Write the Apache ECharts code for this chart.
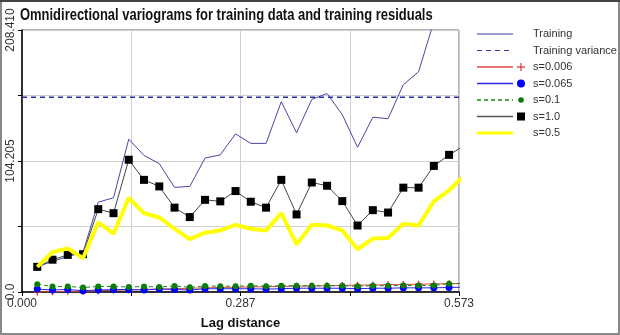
<!DOCTYPE html>
<html>
<head>
<meta charset="utf-8">
<script src="https://cdn.jsdelivr.net/npm/echarts@6/dist/echarts.min.js"></script>
<style>
  html, body { margin: 0; padding: 0; background: #fff; }
  #chart { width: 620px; height: 335px; }
</style>
</head>
<body>
<div id="chart"></div>
<script>
// lag distances (last one lies past the axis end and is clipped)
const lags = [0.02, 0.04, 0.06, 0.08, 0.10, 0.12, 0.14, 0.16, 0.18, 0.20,
  0.22, 0.24, 0.26, 0.28, 0.30, 0.32, 0.34, 0.36, 0.38, 0.40,
  0.42, 0.44, 0.46, 0.48, 0.50, 0.52, 0.54, 0.56, 0.58];

const training = [20.0, 24.4, 28.2, 31.6, 71.5, 74.9, 121.6, 108.6, 102.1, 83.2,
  84.0, 106.5, 109.1, 125.8, 118.2, 118.2, 151.4, 126.7, 153.2, 157.9,
  141.0, 115.1, 139.0, 137.9, 164.9, 175.2, 215.0, 240.0, 262.0];
const trainingVariance = 155.0;
const s0006 = [0.0, 0.2, 0.5, 0.6, 1.0, 1.3, 1.6, 2.0, 2.4, 2.6,
  3.0, 3.3, 3.6, 3.8, 4.0, 4.2, 4.4, 4.6, 4.8, 5.0,
  5.2, 5.4, 5.6, 5.8, 6.0, 6.2, 6.4, 6.6, 6.8];
const s0065 = [2.3, 1.6, 2.0, 1.0, 1.6, 2.0, 2.0, 1.6, 2.3, 2.0,
  1.6, 2.6, 2.6, 2.6, 2.6, 2.3, 2.6, 3.0, 3.0, 3.0,
  3.0, 2.6, 3.0, 3.0, 3.3, 3.3, 3.3, 3.6, 3.8];
const s01 = [6.2, 4.4, 4.4, 3.6, 4.4, 4.4, 4.0, 4.4, 4.0, 4.8,
  3.8, 4.8, 4.6, 4.6, 5.0, 4.6, 5.0, 5.0, 5.0, 5.0,
  5.0, 4.6, 5.0, 5.0, 5.2, 5.2, 5.2, 6.6, 6.8];
const s10 = [20.0, 25.7, 29.5, 30.1, 65.9, 62.7, 105.2, 89.2, 84.0, 67.1,
  59.6, 73.3, 72.1, 80.3, 71.8, 67.1, 89.2, 61.7, 87.1, 84.5,
  72.3, 52.9, 65.1, 63.2, 83.0, 83.0, 100.3, 109.1, 116.5];
const s05 = [20.0, 31.6, 34.7, 26.9, 55.5, 46.4, 74.9, 62.7, 59.3, 50.3,
  42.0, 47.2, 49.0, 53.4, 50.3, 49.0, 62.7, 37.9, 53.4, 52.9,
  49.0, 34.0, 42.5, 43.0, 54.4, 52.9, 72.1, 80.9, 92.8];

const xMax = 0.573;
const yMax = 208.41;
const xTickLabels = ['0.000', '', '0.287', '', '0.573'];
const yTickLabels = ['0.0', '', '104.205', '', '208.410'];
const titleText = 'Omnidirectional variograms for training data and training residuals';

const plus = 'path://M4,0 L6,0 L6,4 L10,4 L10,6 L6,6 L6,10 L4,10 L4,6 L0,6 L0,4 L4,4 Z';

function pairs(vals) {
  return lags.map((x, i) => [x, vals[i]]);
}

const legendItems = [
  { name: 'Training', color: '#3a3a9a', width: 1 },
  { name: 'Training variance', color: '#3a3aaa', width: 1, dash: [5, 4] },
  { name: 's=0.006', color: '#e04848', width: 1.5, mark: 'plus' },
  { name: 's=0.065', color: '#2a2ae8', width: 1.5, mark: 'dot' },
  { name: 's=0.1', color: '#138a13', width: 1.5, dash: [4, 3], mark: 'small' },
  { name: 's=1.0', color: '#555555', width: 1.5, mark: 'square' },
  { name: 's=0.5', color: '#ffff00', width: 3 }
];

function decorations() {
  let out = [];
  // outer frame
  out.push({ type: 'rect', shape: { x: 1, y: 1, width: 618, height: 333 },
    style: { fill: null, stroke: '#888', lineWidth: 2 }, silent: true });
  out.push({ type: 'line', shape: { x1: 0, y1: 1, x2: 620, y2: 1 },
    style: { stroke: '#444', lineWidth: 2 }, silent: true });
  // title, condensed
  out.push({ type: 'text', x: 20, y: 16, scaleX: 0.81,
    style: { text: titleText, fill: '#111', font: 'bold 16px "Liberation Sans", Arial, sans-serif', verticalAlign: 'middle' } });
  legendItems.forEach((it, i) => {
    let y = 34 + i * 16.5;
    out.push({ type: 'line', shape: { x1: 477, y1: y, x2: 513, y2: y },
      style: { stroke: it.color, lineWidth: it.width, lineDash: it.dash || null } });
    if (it.mark === 'plus') {
      out.push({ type: 'line', shape: { x1: 517, y1: y, x2: 525, y2: y }, style: { stroke: '#e03030', lineWidth: 1.2 } });
      out.push({ type: 'line', shape: { x1: 521, y1: y - 4, x2: 521, y2: y + 4 }, style: { stroke: '#e03030', lineWidth: 1.2 } });
    } else if (it.mark === 'dot') {
      out.push({ type: 'circle', shape: { cx: 521, cy: y, r: 4 }, style: { fill: '#0000ff' } });
    } else if (it.mark === 'small') {
      out.push({ type: 'circle', shape: { cx: 521, cy: y, r: 2.8 }, style: { fill: '#0a7a0a' } });
    } else if (it.mark === 'square') {
      out.push({ type: 'rect', shape: { x: 517, y: y - 4, width: 8, height: 8 }, style: { fill: '#000' } });
    }
    out.push({ type: 'text', x: 533, y: y,
      style: { text: it.name, fill: '#333', font: '11px "Liberation Sans", Arial, sans-serif', verticalAlign: 'middle' } });
  });
  return out;
}

let chart = echarts.init(document.getElementById('chart'));
chart.setOption({
  animation: false,
  backgroundColor: '#fff',
  grid: {
    left: 22, right: 161, top: 30, bottom: 37,
    show: true, borderColor: '#666', borderWidth: 1
  },
  xAxis: {
    type: 'value',
    min: 0, max: xMax, interval: xMax / 4,
    name: 'Lag distance',
    nameLocation: 'middle',
    nameGap: 25,
    nameTextStyle: { fontFamily: '"Liberation Sans", Arial, sans-serif', fontWeight: 'bold', fontSize: 13, color: '#111' },
    axisLine: { lineStyle: { color: '#000', width: 1.5 } },
    axisTick: { length: 4, lineStyle: { color: '#000' } },
    axisLabel: {
      margin: 6,
      color: '#333',
      fontSize: 12,
      fontFamily: '"Liberation Sans", Arial, sans-serif',
      formatter: (v, i) => xTickLabels[i] || ''
    },
    splitLine: { show: true, lineStyle: { color: '#cfcfcf', width: 1 } }
  },
  yAxis: {
    type: 'value',
    min: 0, max: yMax, interval: yMax / 4,
    axisLine: { show: true, lineStyle: { color: '#000', width: 1.5 } },
    axisTick: { show: true, length: 4, lineStyle: { color: '#000' } },
    axisLabel: {
      rotate: 90,
      margin: 5,
      color: '#333',
      fontSize: 12,
      fontFamily: '"Liberation Sans", Arial, sans-serif',
      formatter: (v, i) => yTickLabels[i] || ''
    },
    splitLine: { show: true, lineStyle: { color: '#cfcfcf', width: 1 } }
  },
  graphic: decorations(),
  series: [
    {
      name: 'Training', type: 'line', data: pairs(training), showSymbol: false, symbol: 'none',
      lineStyle: { color: '#4848a4', width: 1 }, z: 2
    },
    {
      name: 'Training variance', type: 'line', symbol: 'none',
      data: [[0, trainingVariance], [xMax, trainingVariance]],
      lineStyle: { color: '#2a2aa8', width: 1.5, type: [5, 4] }, z: 2
    },
    {
      name: 's=0.006', type: 'line', data: pairs(s0006), symbol: plus, symbolSize: 7,
      itemStyle: { color: '#e03030' }, lineStyle: { color: '#e04848', width: 1 }, z: 3
    },
    {
      name: 's=0.065', type: 'line', data: pairs(s0065), symbol: 'circle', symbolSize: 7,
      itemStyle: { color: '#0000ff' }, lineStyle: { color: '#2a2ae8', width: 1 }, z: 3
    },
    {
      name: 's=0.1', type: 'line', data: pairs(s01), symbol: 'circle', symbolSize: 6,
      itemStyle: { color: '#0a800a' }, lineStyle: { color: '#138a13', width: 1, type: [4, 3] }, z: 3
    },
    {
      name: 's=1.0', type: 'line', data: pairs(s10), symbol: 'rect', symbolSize: 8,
      itemStyle: { color: '#000' }, lineStyle: { color: '#444', width: 1 }, z: 4
    },
    {
      name: 's=0.5', type: 'line', data: pairs(s05), symbol: 'none',
      lineStyle: { color: '#ffff00', width: 4 }, z: 5
    }
  ]
});
</script>
</body>
</html>
